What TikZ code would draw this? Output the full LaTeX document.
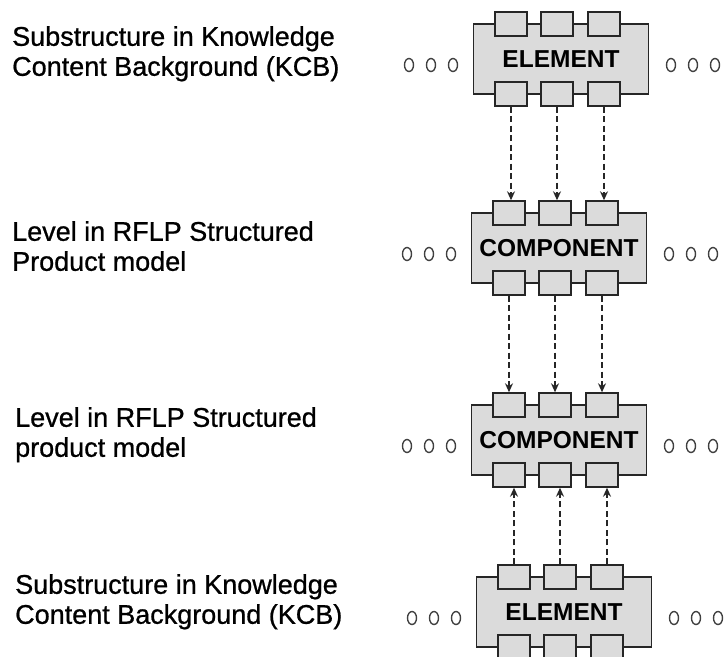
\documentclass[tikz,border=0pt]{standalone}
\usepackage{fontspec}
\setmainfont{Liberation Sans}
\newfontfamily\etiqfont[FakeBold=0.8]{Liberation Sans}
\usetikzlibrary{arrows.meta}

\begin{document}
\begin{tikzpicture}[
    x=1pt, y=-1pt,
    bloque/.style={rectangle, draw=black!85, fill=black!14, line width=1.4pt, minimum width=175pt, minimum height=70pt, inner sep=0pt, font=\fontsize{24.5}{26}\selectfont\bfseries},
    puerto/.style={rectangle, draw=black!85, fill=black!14, line width=1.4pt, minimum width=32pt, minimum height=24pt, inner sep=0pt},
    etiqueta/.style={anchor=north west, align=left, inner sep=0pt, font=\etiqfont\fontsize{27}{30}\selectfont},
    flecha/.style={draw=black!85, line width=1.4pt, dash pattern=on 6pt off 3.5pt, -{Stealth[length=9pt, width=8pt]}},
    punto/.style={draw=black!75, line width=1.4pt}
]
    \useasboundingbox (0,0) rectangle (728,656);

    % Etiquetas de cada nivel
    \node[etiqueta] (l1) at (12,26) {Substructure in Knowledge\\Content Background (KCB)};
    \node[etiqueta] (l2) at (12,221) {Level in RFLP Structured\\Product model};
    \node[etiqueta] (l3) at (15,407) {Level in RFLP Structured\\product model};
    \node[etiqueta] (l4) at (15,574) {Substructure in Knowledge\\Content Background (KCB)};

    % Bloques con tres puertos arriba y tres abajo
    \foreach \n/\x/\y/\t in {b1/561/59/ELEMENT, b2/559/248/COMPONENT, b3/559/440/COMPONENT, b4/564/612/ELEMENT} {
        \node[bloque] (\n) at (\x,\y) {\t};
        \foreach \i/\dx in {1/-50, 2/-4, 3/43} {
            \node[puerto] (\n t\i) at (\x+\dx,\y-35) {};
            \node[puerto] (\n b\i) at (\x+\dx,\y+35) {};
        }
        % puntos suspensivos a ambos lados
        \foreach \dx in {-152, -130, -108, 110, 132, 154}
            \draw[punto] (\x+\dx,\y+6) ellipse [x radius=4.5pt, y radius=6.5pt];
    }

    % Flechas discontinuas entre puertos (verticales)
    \foreach \i in {1,2,3} {
        \draw[flecha] (b1b\i) -- (b1b\i |- b2t\i.north);
        \draw[flecha] (b2b\i) -- (b2b\i |- b3t\i.north);
        \draw[flecha] (b4t\i) -- (b4t\i |- b3b\i.south);
    }
\end{tikzpicture}
\end{document}
